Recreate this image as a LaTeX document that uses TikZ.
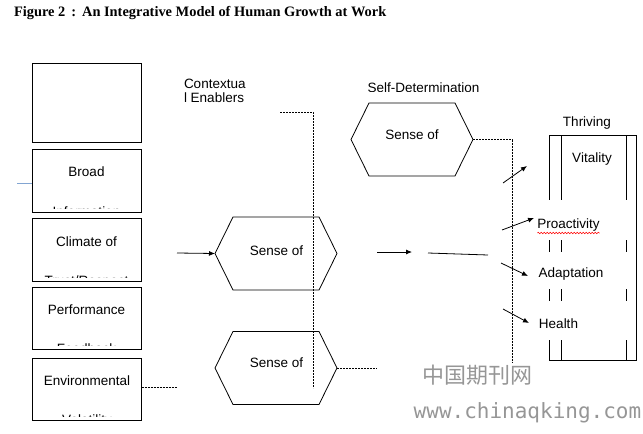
\documentclass[tikz,border=0pt]{standalone}
\usepackage{fontspec}
\setmainfont{Liberation Sans}
\newfontfamily\titlefont{Liberation Serif}
\newfontfamily\cjkfont{Noto Sans CJK SC}
\newfontfamily\wmfont{DejaVu Sans Mono}
\usetikzlibrary{arrows.meta,decorations.pathmorphing,calc}
\definecolor{bluish}{RGB}{130,165,210}
\definecolor{wmgray}{RGB}{150,150,150}
\begin{document}
\begin{tikzpicture}[x=1pt,y=-1pt,
  every node/.style={inner sep=0pt,outer sep=0pt},
  lbl/.style={font=\fontsize{13.5}{14}\selectfont},
  ln/.style={line width=0.8pt},
  boxnode/.style={draw,line width=0.8pt,minimum width=109pt},
  hexframe/.style={minimum width=122pt,minimum height=73pt},
  hexline/.style={line width=0.8pt,line join=miter},
  dsh/.style={line width=0.7pt,dash pattern=on 2pt off 1pt},
  arr/.style={line width=0.8pt,-{Latex[length=6pt,width=5pt]}}]
\useasboundingbox (0,0) rectangle (643,434);

% title
\node[anchor=west,font=\titlefont\bfseries\fontsize{14.4}{16}\selectfont] (title) at (14,13)
  {Figure 2\hspace{6pt}:\hspace{6pt}An Integrative Model of Human Growth at Work};

% left boxes
\node[boxnode,minimum height=79pt] (b1) at (87,102.5) {};
\node[boxnode,minimum height=63pt] (b2) at (86.5,180.5) {};
\node[boxnode,minimum height=63pt] (b3) at (86.5,249.5) {};
\node[boxnode,minimum height=62pt] (b4) at (86.5,318) {};
\node[boxnode,minimum height=62pt] (b5) at (87,389) {};

\node[lbl] (b2t) at (86.5,172) {Broad};
\node[lbl] (b3t) at (86.5,242) {Climate of};
\node[lbl] (b4t) at (86.5,310) {Performance};
\node[lbl] (b5t) at (87,381) {Environmental};
\begin{scope}
\clip (33,150) rectangle (140,208);
\node[lbl,anchor=base] (b2b) at (86.5,216) {Information};
\end{scope}
\begin{scope}
\clip (33,219) rectangle (140,277);
\node[lbl,anchor=base] (b3b) at (86.5,285) {Trust/Respect};
\end{scope}
\begin{scope}
\clip (33,288) rectangle (140,345);
\node[lbl,anchor=base] (b4b) at (86.5,353) {Feedback};
\end{scope}
\begin{scope}
\clip (34,359) rectangle (140,416);
\node[lbl,anchor=base] (b5b) at (87,424) {Volatility};
\end{scope}

\coordinate (bl) at (17,183);
\draw[bluish,line width=0.8pt] (bl) -- (bl -| b2.west);

% contextual enablers
\node[lbl,anchor=west,align=left] (ctx) at (184,90.8) {Contextua\\l Enablers};
\coordinate (ctx1) at (280,112);
\coordinate (ctx2) at (313,112);
\coordinate (ctx3) at (313,388);
\draw[dsh] (ctx1) -- (ctx2) -- (ctx3);

% self-determination
\begin{scope}
\clip (300,70) rectangle (520,91);
\node[lbl] (sdlab) at (423.5,87.5) {Self-Determination};
\end{scope}

% hexagons
\foreach \n/\cx/\cy in {hexA/412/139.5, hexB/276/253.5, hexC/276/368}{
  \node[hexframe] (\n) at (\cx,\cy) {};
  \draw[hexline] (\n.west) -- ([xshift=18pt]\n.north west) -- ([xshift=-18pt]\n.north east)
    -- (\n.east) -- ([xshift=-18pt]\n.south east) -- ([xshift=18pt]\n.south west) -- cycle;
}
\node[lbl] (hexAt) at (412,135) {Sense of};
\node[lbl] (hexBt) at (276.5,251) {Sense of};
\node[lbl] (hexCt) at (276.5,363) {Sense of};

\coordinate (sd1) at (512,139.5);
\coordinate (sd2) at (512,362);
\draw[dsh] (hexA.east) -- (sd1) -- (sd2);
\coordinate (hc1) at (377,368);
\draw[dsh] (hexC.east) -- (hc1);
\coordinate (envend) at (177,387);
\draw[dsh] (envend -| b5.east) -- (envend);

\coordinate (inB) at (177,253);
\draw[arr] (inB) -- (hexB.west);
\coordinate (m1) at (377,252);
\coordinate (m2) at (412,252);
\draw[arr] (m1) -- (m2);
\coordinate (l1) at (428,253);
\coordinate (l2) at (488,255);
\draw[ln] (l1) -- (l2);

% outputs
\coordinate (o1s) at (503,183); \coordinate (o1e) at (527,166);
\coordinate (o2s) at (502,230); \coordinate (o2e) at (534,218);
\coordinate (o3s) at (501,263); \coordinate (o3e) at (528,276);
\coordinate (o4s) at (503,309); \coordinate (o4e) at (529,323);
\draw[arr] (o1s) -- (o1e);
\draw[arr] (o2s) -- (o2e);
\draw[arr] (o3s) -- (o3e);
\draw[arr] (o4s) -- (o4e);

% thriving box
\node[minimum width=87pt,minimum height=225pt] (thr) at (592.5,247.5) {};
\draw[ln] (thr.north west) -- (thr.north east) -- (thr.south east) -- (thr.south west);
\foreach \xx in {549,561,626}{
  \foreach \ya/\yb in {135/200,240/252,289/301,340/360}{
    \draw[ln] (\xx,\ya) -- (\xx,\yb);
  }
}
\node[lbl] (thrt) at (587,123) {Thriving};
\node[lbl] (vit) at (592,159) {Vitality};
\node[lbl] (pro) at (568.5,225) {Proactivity};
\node[lbl] (ada) at (571,274) {Adaptation};
\node[lbl] (hea) at (558.5,324) {Health};
\draw[red,line width=0.5pt,decorate,decoration={snake,amplitude=0.8pt,segment length=3pt}]
  ($(pro.west)+(0,8)$) -- ($(pro.east)+(0,8)$);

% watermark
\node[font=\cjkfont\fontsize{22}{24}\selectfont,text=wmgray] (wm1) at (477,375) {中国期刊网};
\node[font=\wmfont\fontsize{21}{24}\selectfont,text=wmgray] (wm2) at (527.5,413) {www.chinaqking.com};
\end{tikzpicture}
\end{document}
